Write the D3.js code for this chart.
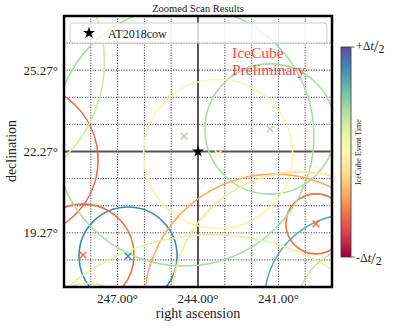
<!DOCTYPE html>
<html>
<head>
<meta charset="utf-8">
<script src="https://cdn.jsdelivr.net/npm/d3@7"></script>
<style>
body { margin: 0; background: #fff; }
text { font-family: "Liberation Serif", serif; fill: #222; }
</style>
</head>
<body>
<div id="main"></div>
<script>
// source + scan centre
var srcName = "AT2018cow";
var srcRA = 244.00;
var srcDec = 22.27;

// neutrino events: position, error circle radius (deg) and time fraction in window
var eventRA     = [246.61, 239.60, 248.29, 250.60, 241.31, 244.52, 243.25, 241.16, 238.25, 240.19, 243.48, 252.47, 237.96, 248.10];
var eventDec    = [18.41,  19.60,  18.45,  21.96,  23.10,  22.84,  22.18,  16.64,  16.72,  16.79,  10.89,  25.57,  16.42,  15.68];
var eventRadius = [1.83,   1.12,   1.90,   2.87,   2.43,   4.85,   2.78,   4.85,   3.28,   4.78,   8.40,   4.98,   2.35,   1.75];
var eventTime   = [0.90,   0.20,   0.20,   0.19,   0.70,   0.70,   0.47,   0.30,   0.83,   0.42,   0.60,   0.64,   0.65,   0.62];

var raTicks  = [247.00, 244.00, 241.00];
var decTicks = [19.27, 22.27, 25.27];
var raGrid   = [240, 241, 242, 243, 245, 246, 247, 248];
var decGrid  = [18.27, 19.27, 20.27, 21.27, 23.27, 24.27, 25.27, 26.27];

var W = 401, H = 326;
var plot = { left: 64, right: 332, top: 16, bottom: 287 };

var svg = d3.select("#main").append("svg")
    .attr("width", W).attr("height", H);

var x = d3.scaleLinear().domain([249, 239]).range([plot.left, plot.right]);
var y = d3.scaleLinear().domain([17.27, 27.27]).range([plot.bottom, plot.top]);
var pxPerDeg = Math.abs(x(1) - x(0));

svg.append("clipPath").attr("id", "clip")
    .append("rect")
    .attr("x", plot.left).attr("y", plot.top)
    .attr("width", plot.right - plot.left).attr("height", plot.bottom - plot.top);

var g = svg.append("g").attr("clip-path", "url(#clip)");

// grid
g.selectAll(".vgrid").data(raGrid).enter().append("line")
    .attr("x1", function (d) { return x(d); }).attr("x2", function (d) { return x(d); })
    .attr("y1", plot.top).attr("y2", plot.bottom)
    .attr("stroke", "#333").attr("stroke-width", 1).attr("stroke-dasharray", "1,1.6");
g.selectAll(".hgrid").data(decGrid).enter().append("line")
    .attr("y1", function (d) { return y(d); }).attr("y2", function (d) { return y(d); })
    .attr("x1", plot.left).attr("x2", plot.right)
    .attr("stroke", "#333").attr("stroke-width", 1).attr("stroke-dasharray", "1,1.6");

// crosshair on source
g.append("line")
    .attr("x1", plot.left).attr("x2", plot.right)
    .attr("y1", y(srcDec)).attr("y2", y(srcDec))
    .attr("stroke", "#555").attr("stroke-width", 1.8);
g.append("line")
    .attr("x1", x(srcRA)).attr("x2", x(srcRA))
    .attr("y1", plot.top).attr("y2", plot.bottom)
    .attr("stroke", "#111").attr("stroke-width", 1.4);

var events = eventRA.map(function (d, i) {
    return { ra: d, dec: eventDec[i], r: eventRadius[i], t: eventTime[i] };
});

// error circles
g.selectAll(".circ").data(events).enter().append("circle")
    .attr("cx", function (d) { return x(d.ra); })
    .attr("cy", function (d) { return y(d.dec); })
    .attr("r", function (d) { return d.r * pxPerDeg; })
    .attr("fill", "none")
    .attr("stroke", function (d) { return d3.interpolateSpectral(d.t); })
    .attr("stroke-width", 1.6);

// event markers
g.selectAll(".cross").data(events).enter().append("path")
    .attr("transform", function (d) { return "translate(" + x(d.ra) + "," + y(d.dec) + ")"; })
    .attr("d", "M-3.3,-3.3L3.3,3.3M-3.3,3.3L3.3,-3.3")
    .attr("stroke", function (d) { return d3.interpolateSpectral(d.t); })
    .attr("stroke-width", 1.5);

// source star
g.append("path")
    .attr("transform", "translate(" + x(srcRA) + "," + y(srcDec) + ")")
    .attr("d", d3.symbol().type(d3.symbolStar).size(45))
    .attr("fill", "#000");

// frame
svg.append("rect")
    .attr("x", plot.left).attr("y", plot.top)
    .attr("width", plot.right - plot.left).attr("height", plot.bottom - plot.top)
    .attr("fill", "none").attr("stroke", "#000").attr("stroke-width", 2.5);

// legend
svg.append("rect")
    .attr("x", 70).attr("y", 23).attr("width", 257).attr("height", 20).attr("rx", 3)
    .attr("fill", "#fff").attr("fill-opacity", 0.8)
    .attr("stroke", "#ccc").attr("stroke-width", 1);
svg.append("path")
    .attr("transform", "translate(89,33)")
    .attr("d", d3.symbol().type(d3.symbolStar).size(45))
    .attr("fill", "#000");
svg.append("text").attr("x", 108).attr("y", 37.5).attr("font-size", 12).text(srcName);

// IceCube Preliminary
svg.append("text").attr("x", 232).attr("y", 58).attr("font-size", 15.5)
    .style("fill", "#ff2a2a").attr("opacity", 0.85).text("IceCube");
svg.append("text").attr("x", 232).attr("y", 75).attr("font-size", 15.5)
    .style("fill", "#ff2a2a").attr("opacity", 0.85).text("Preliminary");

// title
svg.append("text").attr("x", 198).attr("y", 12).attr("text-anchor", "middle")
    .attr("font-size", 10.5).text("Zoomed Scan Results");

// axes labels
svg.selectAll(".xt").data(raTicks).enter().append("text")
    .attr("x", function (d) { return x(d); }).attr("y", 303)
    .attr("text-anchor", "middle").attr("font-size", 13)
    .text(function (d) { return d.toFixed(2) + "°"; });
svg.selectAll(".yt").data(decTicks).enter().append("text")
    .attr("x", 58).attr("y", function (d) { return y(d) + 4.5; })
    .attr("text-anchor", "end").attr("font-size", 13)
    .text(function (d) { return d.toFixed(2) + "°"; });
svg.append("text").attr("x", 198).attr("y", 318).attr("text-anchor", "middle")
    .attr("font-size", 14).text("right ascension");
svg.append("text").attr("transform", "translate(16,151) rotate(-90)")
    .attr("text-anchor", "middle").attr("font-size", 14).text("declination");

// colorbar
var cb = { x: 341, w: 10, top: 47, bottom: 257 };
var grad = svg.append("defs").append("linearGradient").attr("id", "cbgrad")
    .attr("x1", 0).attr("y1", 1).attr("x2", 0).attr("y2", 0);
d3.range(0, 1.0001, 0.1).forEach(function (t) {
    grad.append("stop").attr("offset", t).attr("stop-color", d3.interpolateSpectral(t));
});
svg.append("rect").attr("x", cb.x).attr("y", cb.top)
    .attr("width", cb.w).attr("height", cb.bottom - cb.top)
    .attr("fill", "url(#cbgrad)").attr("stroke", "#333").attr("stroke-width", 0.8);
[cb.top, cb.bottom].forEach(function (yy) {
    svg.append("line").attr("x1", cb.x + cb.w).attr("x2", cb.x + cb.w + 3.5)
        .attr("y1", yy).attr("y2", yy).attr("stroke", "#333").attr("stroke-width", 0.8);
});
function cbLabel(yy, sign) {
    var t = svg.append("text").attr("x", 356).attr("y", yy).attr("font-size", 12);
    t.append("tspan").text(sign + "Δ");
    t.append("tspan").attr("font-style", "italic").text("t");
    t.append("tspan").attr("font-size", 17).attr("dy", 2).text("/");
    t.append("tspan").attr("dy", 1).text("2");
}
cbLabel(cb.top + 3, "+");
cbLabel(cb.bottom + 5, "-");
svg.append("text").attr("transform", "translate(361,152) rotate(-90)")
    .attr("text-anchor", "middle").attr("font-size", 8).text("IceCube Event Time");
</script>
</body>
</html>
